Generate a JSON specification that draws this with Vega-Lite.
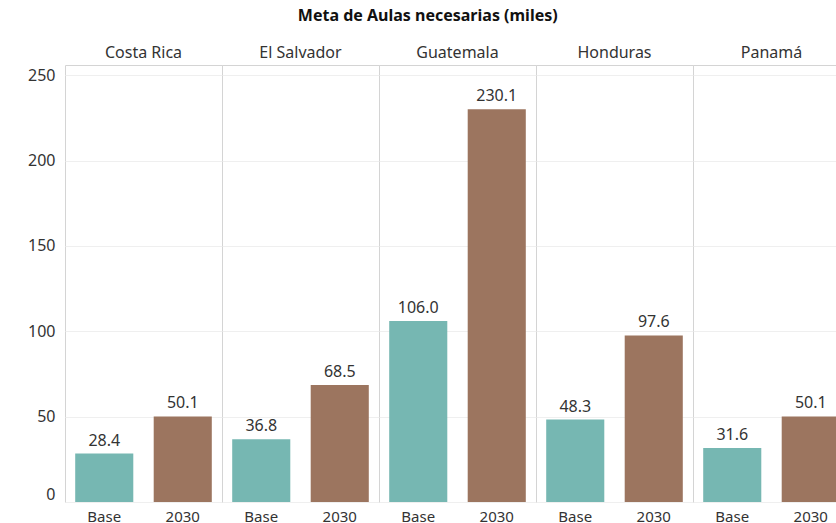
{
  "$schema": "https://vega.github.io/schema/vega-lite/v6.json",
  "padding": {"left": 5, "top": 8, "right": 5, "bottom": 5},
  "bounds": "flush",
  "title": {"text": "Meta de Aulas necesarias (miles)", "fontSize": 16, "fontWeight": "bold", "font": "Noto Sans", "color": "#111", "anchor": "middle", "frame": "bounds", "offset": 21},
  "data": {"values": [
    {"pais": "Costa Rica", "periodo": "Base", "valor": 28.4},
    {"pais": "Costa Rica", "periodo": "2030", "valor": 50.1},
    {"pais": "El Salvador", "periodo": "Base", "valor": 36.8},
    {"pais": "El Salvador", "periodo": "2030", "valor": 68.5},
    {"pais": "Guatemala", "periodo": "Base", "valor": 106.0},
    {"pais": "Guatemala", "periodo": "2030", "valor": 230.1},
    {"pais": "Honduras", "periodo": "Base", "valor": 48.3},
    {"pais": "Honduras", "periodo": "2030", "valor": 97.6},
    {"pais": "Panamá", "periodo": "Base", "valor": 31.6},
    {"pais": "Panamá", "periodo": "2030", "valor": 50.1}
  ]},
  "facet": {"column": {"field": "pais", "type": "nominal", "sort": ["Costa Rica", "El Salvador", "Guatemala", "Honduras", "Panamá"], "title": null,
    "header": {"labelFontSize": 16, "labelFont": "Noto Sans", "labelColor": "#333", "labelPadding": 4}}},
  "spacing": 0,
  "spec": {
    "width": 157,
    "height": 437,
    "encoding": {
      "x": {"field": "periodo", "type": "nominal", "sort": ["Base", "2030"], "title": null,
        "scale": {"paddingInner": 0.26, "paddingOuter": 0.13},
        "axis": {"labelAngle": 0, "labelFontSize": 15, "labelColor": "#333", "ticks": false, "domain": false, "labelPadding": 7}},
      "y": {"field": "valor", "type": "quantitative", "title": null,
        "scale": {"domain": [0, 256], "nice": false},
        "axis": {"values": [0, 50, 100, 150, 200, 250], "labelFontSize": 16, "labelColor": "#333", "ticks": false, "domain": false, "labelPadding": 10, "minExtent": 60, "gridColor": "#efefef", "labelFlush": true}}
    },
    "layer": [
      {"mark": {"type": "bar"},
       "encoding": {"color": {"field": "periodo", "type": "nominal", "scale": {"domain": ["Base", "2030"], "range": ["#76b7b2", "#9c755f"]}, "legend": null}}},
      {"mark": {"type": "text", "dy": -5, "baseline": "bottom", "fontSize": 16, "color": "#333"},
       "encoding": {"text": {"field": "valor", "type": "quantitative", "format": ".1f"}}}
    ]
  },
  "config": {"view": {"stroke": "#d4d4d4"}, "font": "Noto Sans", "axisX": {"grid": false}}
}
